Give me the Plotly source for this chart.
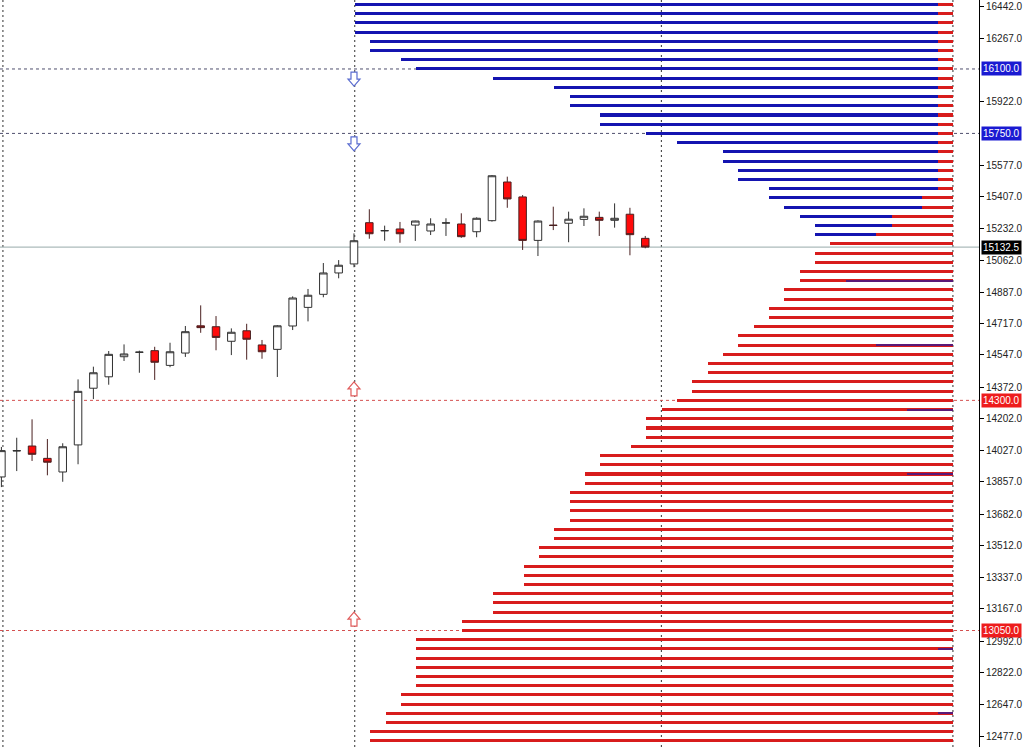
import plotly.graph_objects as go

# ---------------- candle data (index-based time axis) ----------------
c_open = [13884, 14025, 14052, 13985, 13911, 14058, 14366, 14428, 14537, 14561,
          14570, 14490, 14557, 14705, 14700, 14621, 14678, 14601, 14577, 14704,
          14805, 14876, 14992, 15041, 15265, 15221, 15231, 15252, 15220, 15263,
          15258, 15216, 15276, 15486, 15405, 15169, 15252, 15262, 15283, 15294,
          15278, 15311, 15180]
c_high = [14047, 14097, 14197, 14090, 14067, 14414, 14483, 14568, 14604, 14570,
          14591, 14613, 14704, 14816, 14758, 14691, 14716, 14628, 14709, 14865,
          14905, 15046, 15062, 15207, 15338, 15249, 15269, 15276, 15289, 15289,
          15316, 15294, 15524, 15515, 15415, 15278, 15352, 15325, 15343, 15325,
          15370, 15346, 15193]
c_low = [13829, 13916, 13971, 13893, 13858, 13953, 14307, 14385, 14514, 14450,
         14411, 14480, 14536, 14667, 14572, 14546, 14521, 14526, 14427, 14682,
         14729, 14860, 14963, 15023, 15178, 15167, 15156, 15166, 15198, 15193,
         15183, 15186, 15271, 15346, 15117, 15084, 15225, 15159, 15247, 15193,
         15238, 15088, 15126]
c_close = [14027, 14027, 14007, 13964, 14048, 14349, 14450, 14550, 14552, 14562,
           14507, 14564, 14673, 14695, 14642, 14670, 14632, 14564, 14705, 14856,
           14871, 14992, 15034, 15167, 15205, 15222, 15205, 15274, 15258, 15264,
           15189, 15289, 15520, 15394, 15169, 15274, 15250, 15284, 15300, 15278,
           15289, 15200, 15132.5]

# ---------------- depth-of-market levels ----------------
dom_levels = list(range(16450, 12400, -50))
ask_volume = [39, 39, 39, 39, 38, 38, 36, 35, 30, 26, 25, 25, 23, 23, 20, 18,
              15, 15, 14, 14, 12, 12, 11, 10, 9, 9]
bid_volume = [8, 9, 9, 10, 10, 11, 11, 12, 12, 13, 14, 14, 15, 16, 16, 17, 17,
              18, 19, 20, 20, 20, 21, 23, 23, 24, 24, 25, 25, 25, 25, 26, 26,
              27, 27, 28, 28, 28, 30, 30, 30, 32, 32, 35, 35, 35, 35, 35, 35,
              36, 36, 37, 37, 38, 38]
ask_overlay = [1] * 21 + [2, 2, 4, 4, 5]
bid_overlay_levels = [14950, 14600, 14250, 13900, 12950, 12600]
bid_overlay_volume = [7, 5, 3, 3, 1, 1]

ask_levels = dom_levels[:len(ask_volume)]
bid_levels = dom_levels[len(ask_volume):]

# ---------------- price lines / labels ----------------
bid_price = 15132.5
sell_lines = [16100.0, 15750.0]
buy_lines = [14300.0, 13050.0]
arrow_down_prices = [16045, 15693]
arrow_up_prices = [14362, 13112]
separator_idx = [0.1, 23.05, 43.05, 62.07]
tick_values = [16442, 16267, 15922, 15577, 15407, 15232, 15062, 14887, 14717,
               14547, 14372, 14202, 14027, 13857, 13682, 13512, 13337, 13167,
               12992, 12822, 12647, 12477]

BLUE = "#1414b0"
RED = "#d81c1c"
PURPLE = "#5a1a78"

fig = go.Figure()

bw = 16.5
fig.add_trace(go.Bar(y=ask_levels, x=ask_volume, orientation="h", base=0, width=bw,
                     marker=dict(color=BLUE, line=dict(width=0)), xaxis="x2", yaxis="y",
                     hoverinfo="skip", showlegend=False))
fig.add_trace(go.Bar(y=bid_levels, x=bid_volume, orientation="h", base=0, width=bw,
                     marker=dict(color=RED, line=dict(width=0)), xaxis="x2", yaxis="y",
                     hoverinfo="skip", showlegend=False))
fig.add_trace(go.Bar(y=ask_levels, x=ask_overlay, orientation="h", base=0, width=bw,
                     marker=dict(color=RED, line=dict(width=0)), xaxis="x2", yaxis="y",
                     hoverinfo="skip", showlegend=False))
fig.add_trace(go.Bar(y=bid_overlay_levels, x=bid_overlay_volume, orientation="h", base=0,
                     width=11, marker=dict(color=PURPLE, line=dict(width=0)),
                     xaxis="x2", yaxis="y", hoverinfo="skip", showlegend=False))

fig.add_trace(go.Candlestick(
    x=list(range(len(c_open))), open=c_open, high=c_high, low=c_low, close=c_close,
    increasing=dict(line=dict(color="#303030", width=1), fillcolor="white"),
    decreasing=dict(line=dict(color="#4a2020", width=1), fillcolor="#ff0a0a"),
    whiskerwidth=0, hoverinfo="skip", showlegend=False, xaxis="x", yaxis="y"))

shapes = []
for xi in separator_idx:
    shapes.append(dict(type="line", xref="x", yref="paper", x0=xi, x1=xi, y0=0, y1=1,
                       line=dict(color="#303030", width=1, dash="2px,3px"), layer="below"))
for p in sell_lines:
    shapes.append(dict(type="line", xref="paper", yref="y", x0=0, x1=1, y0=p, y1=p,
                       line=dict(color="#50506e", width=1, dash="3px,3px"), layer="below"))
for p in buy_lines:
    shapes.append(dict(type="line", xref="paper", yref="y", x0=0, x1=1, y0=p, y1=p,
                       line=dict(color="#d45050", width=1, dash="3px,3px"), layer="below"))
shapes.append(dict(type="line", xref="paper", yref="y", x0=0, x1=1, y0=bid_price, y1=bid_price,
                   line=dict(color="#98aaaa", width=1), layer="below"))

down_path = "M -3,7 L 3,7 L 3,0 L 6,0 L 0,-7 L -6,0 L -3,0 Z"
up_path = "M -3,-7 L 3,-7 L 3,0 L 6,0 L 0,7 L -6,0 L -3,0 Z"
for p in arrow_down_prices:
    shapes.append(dict(type="path", xref="x", yref="y", xsizemode="pixel", ysizemode="pixel",
                       xanchor=23, yanchor=p, path=down_path, fillcolor="white",
                       line=dict(color="#5a6cd0", width=1.2)))
for p in arrow_up_prices:
    shapes.append(dict(type="path", xref="x", yref="y", xsizemode="pixel", ysizemode="pixel",
                       xanchor=23, yanchor=p, path=up_path, fillcolor="white",
                       line=dict(color="#e05a5a", width=1.2)))

annotations = []
def price_label(p, bg):
    annotations.append(dict(xref="paper", yref="y", x=1, y=p, xanchor="left", yanchor="middle",
                            xshift=2, text=f"{p:.1f}", showarrow=False, bgcolor=bg,
                            borderpad=1,
                            font=dict(family="Liberation Sans", size=10, color="white")))
for p in sell_lines:
    price_label(p, "#1a1ad2")
for p in buy_lines:
    price_label(p, "#ee1c1c")
price_label(bid_price, "#000000")

W = 979.0
px_per_idx = 15.33
x0 = -1.4 / px_per_idx
fig.update_layout(
    width=1024, height=747,
    margin=dict(l=0, r=45, t=0, b=0),
    paper_bgcolor="white", plot_bgcolor="white",
    barmode="overlay", bargap=0,
    showlegend=False,
    shapes=shapes, annotations=annotations,
    xaxis=dict(range=[x0, x0 + W / px_per_idx], showgrid=False, zeroline=False,
               showticklabels=False, ticks="", rangeslider=dict(visible=False),
               showline=False, fixedrange=True),
    xaxis2=dict(overlaying="x", range=[953 / px_per_idx, -26 / px_per_idx],
                showgrid=False, zeroline=False, showticklabels=False, ticks="",
                showline=False, fixedrange=True),
    yaxis=dict(side="right", range=[16474.6 - 5.4315 * 747, 16474.6],
               tickvals=tick_values, ticktext=[f"{v:.1f}" for v in tick_values],
               ticks="outside", ticklen=4, tickcolor="#000", showline=True,
               linecolor="#000", linewidth=1, showgrid=False, zeroline=False,
               tickfont=dict(family="Liberation Sans", size=10, color="#222"),
               fixedrange=True),
)

fig.write_html("out.html", config={"displayModeBar": False},
               post_script="document.body.style.margin='0px';document.body.style.overflow='hidden';")
